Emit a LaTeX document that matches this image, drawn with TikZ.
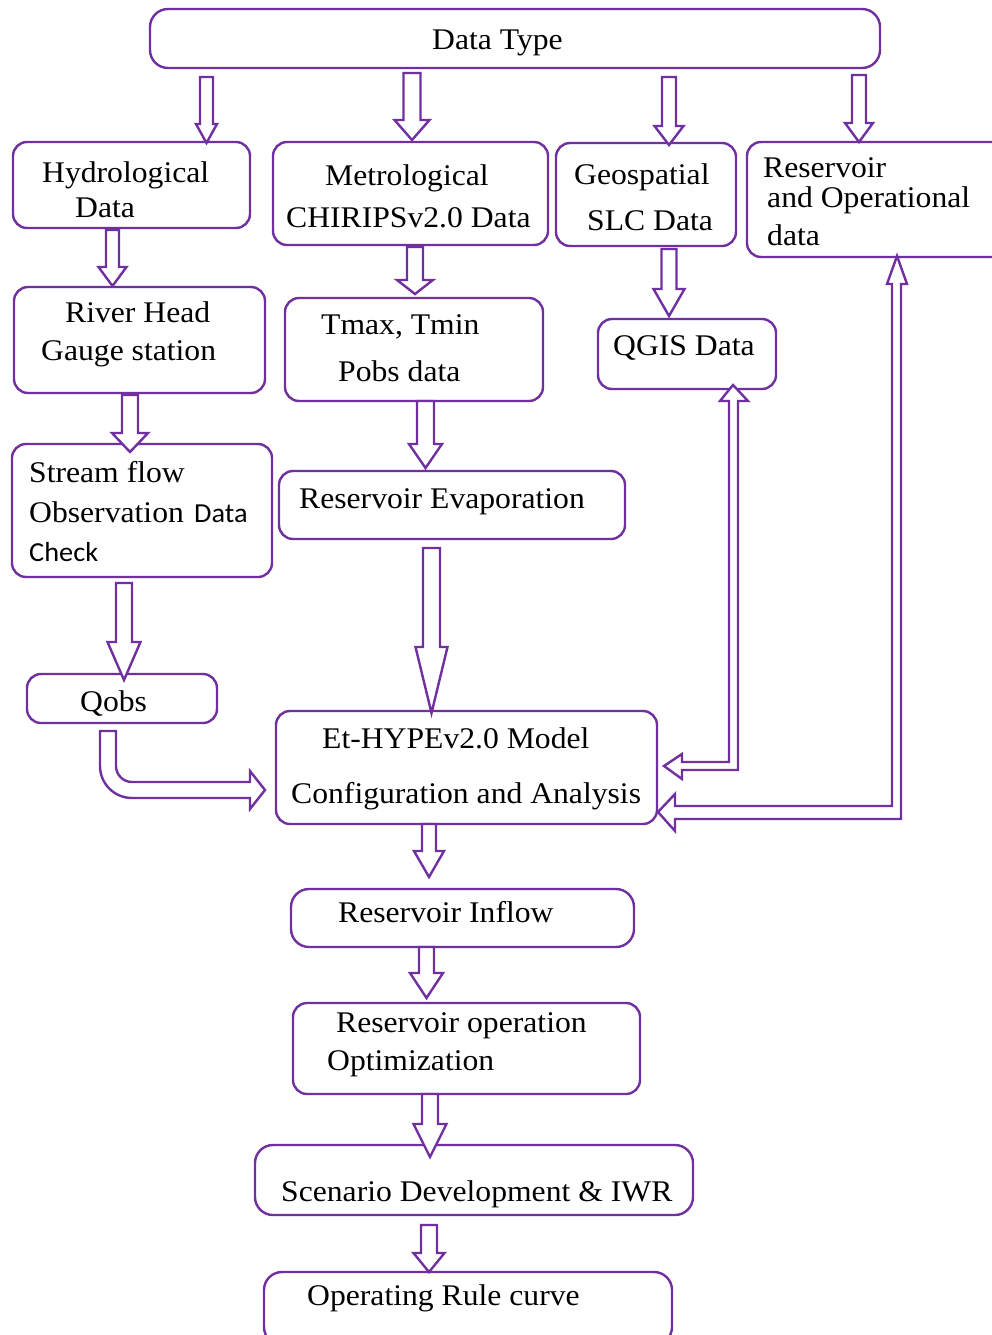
\documentclass[tikz,border=0pt]{standalone}
\usepackage{fontspec}
\setmainfont{Liberation Serif}[FakeStretch=1.055]
\newfontfamily\calib{Carlito}[FakeStretch=1.03]
\definecolor{purp}{RGB}{112,48,160}
\newcommand\darr[6]{\draw[blk] ({#1-#4},#2) -- ({#1+#4},#2) -- ({#1+#4},{#3-#6}) -- ({#1+#5},{#3-#6}) -- (#1,#3) -- ({#1-#5},{#3-#6}) -- ({#1-#4},{#3-#6}) -- cycle;}
\begin{document}
\begin{tikzpicture}[x=1pt,y=-1pt,
  box/.style={draw=purp, line width=2.4pt, rounded corners=14pt, inner sep=0pt, fill=white},
  blk/.style={draw=purp, line width=2.4pt, fill=white, line join=miter},
  txt/.style={anchor=base west, inner sep=0pt, font=\fontsize{30}{36}\selectfont},
  sans/.style={anchor=base west, inner sep=0pt, font=\calib\fontsize{27.5}{33}\selectfont}]
\useasboundingbox (0,0) rectangle (992,1335);
\clip (0,0) rectangle (992,1335);
% boxes
\node[box, rounded corners=18pt, minimum width=730pt, minimum height=59pt] (dt) at (515,38.5) {};
\node[box, minimum width=237pt, minimum height=86pt] (hyd) at (131.5,185) {};
\node[box, minimum width=275pt, minimum height=103pt] (met) at (410.5,193.5) {};
\node[box, minimum width=180pt, minimum height=103pt] (geo) at (646,194.5) {};
\node[box, minimum width=263pt, minimum height=115pt] (res) at (878.5,199.5) {};
\node[box, minimum width=251pt, minimum height=106pt] (river) at (139.5,340) {};
\node[box, minimum width=258pt, minimum height=103pt] (tmax) at (414,349.5) {};
\node[box, minimum width=178pt, minimum height=70pt] (qgis) at (687,354) {};
\node[box, minimum width=260pt, minimum height=133pt] (stream) at (142,510.5) {};
\node[box, minimum width=346pt, minimum height=68pt] (evap) at (452,505) {};
\node[box, minimum width=190pt, minimum height=49pt] (qobs) at (122,698.5) {};
\node[box, minimum width=381pt, minimum height=113pt] (et) at (466.5,767.5) {};
\node[box, rounded corners=18pt, minimum width=343pt, minimum height=58pt] (inflow) at (462.5,918) {};
\node[box, minimum width=347pt, minimum height=91pt] (opt) at (466.5,1048.5) {};
\node[box, rounded corners=18pt, minimum width=438pt, minimum height=70pt] (scen) at (474,1180) {};
\node[box, rounded corners=18pt, minimum width=408pt, minimum height=73pt] (oper) at (468,1308.5) {};
% texts
\node[txt] (t1) at (432,50) {Data Type};
\node[txt] (t2) at (42,182) {Hydrological};
\node[txt] (t3) at (75,217) {Data};
\node[txt] (t4) at (325,185) {Metrological};
\node[txt] (t5) at (286,227) {CHIRIPSv2.0 Data};
\node[txt] (t6) at (574,184) {Geospatial};
\node[txt] (t7) at (587,230) {SLC Data};
\node[txt] (t8) at (763,177) {Reservoir};
\node[txt] (t9) at (767,207) {and Operational};
\node[txt] (t10) at (767,245) {data};
\node[txt] (t11) at (65,322) {River Head};
\node[txt] (t12) at (41,360) {Gauge station};
\node[txt] (t13) at (321,334) {Tmax, Tmin};
\node[txt] (t14) at (338,381) {Pobs data};
\node[txt] (t15) at (613,355) {QGIS Data};
\node[txt] (t16) at (29,482) {Stream flow};
\node[txt] (t17) at (29,522) {Observation};
\node[sans] (t18) at (194,522) {Data};
\node[sans] (t19) at (29,561) {Check};
\node[txt] (t20) at (299,508) {Reservoir Evaporation};
\node[txt] (t21) at (80,711) {Qobs};
\node[txt] (t22) at (322,748) {Et-HYPEv2.0 Model};
\node[txt] (t23) at (291,803) {Configuration and Analysis};
\node[txt] (t24) at (338,922) {Reservoir Inflow};
\node[txt] (t25) at (336,1032) {Reservoir operation};
\node[txt] (t26) at (327,1070) {Optimization};
\node[txt] (t27) at (281,1201) {Scenario Development \& IWR};
\node[txt] (t28) at (307,1305) {Operating Rule curve};
% straight block arrows: x, tail y, tip y, shaft half, head half, head length
\darr{206.5}{77}{143}{6.5}{10.5}{19}
\darr{412}{73}{140}{8.5}{17.5}{20}
\darr{669}{77}{145}{7}{14.5}{19}
\darr{859}{75}{142}{7}{14}{19}
\darr{112.5}{230}{286}{6.5}{14}{19}
\darr{415}{247}{294}{8}{18}{14}
\darr{669}{249}{316}{7.5}{15.5}{27}
\darr{130}{395}{452}{8}{18}{19}
\darr{425.5}{401}{468}{8.5}{16.5}{24}
\darr{124}{583}{680}{8}{16.5}{38}
\darr{431.5}{548}{713}{8.5}{16}{66}
\darr{429}{824}{877}{7}{15}{26}
\darr{426.5}{947}{998}{7.5}{16.5}{25}
\darr{430}{1094}{1157}{8}{16.5}{33}
\darr{429}{1225}{1272}{8}{15.5}{19}
% curved arrow Qobs -> model
\draw[blk] (100,731) -- (116,731) -- (116,766) .. controls (116,774.8) and (123.2,782) .. (132,782)
  -- (250,782) -- (250,771) -- (265,790) -- (250,809) -- (250,798) -- (132,798)
  .. controls (114.3,798) and (100,783.7) .. (100,766) -- cycle;
% elbow arrow QGIS <-> model
\draw[blk] (733,385) -- (748,401) -- (738,401) -- (738,770) -- (682,770) -- (682,779) -- (664,766)
  -- (682,754) -- (682,762) -- (729,762) -- (729,401) -- (720,401) -- cycle;
% elbow arrow Reservoir data <-> model
\draw[blk] (897,256) -- (907,284) -- (901,284) -- (901,819) -- (675,819) -- (675,831) -- (658,812)
  -- (675,794) -- (675,806) -- (892,806) -- (892,284) -- (887,284) -- cycle;
\end{tikzpicture}
\end{document}
